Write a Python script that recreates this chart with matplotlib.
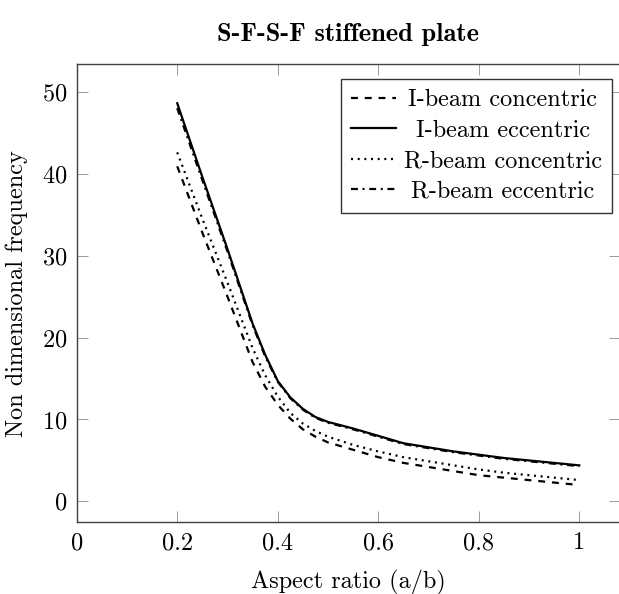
import numpy as np
import matplotlib
matplotlib.use("Agg")
import matplotlib.pyplot as plt

plt.rcParams['font.family'] = ['cmr10', 'DejaVu Serif']
plt.rcParams['mathtext.fontset'] = 'cm'
plt.rcParams['axes.formatter.use_mathtext'] = True
plt.rcParams['axes.unicode_minus'] = False

# aspect ratio a/b
ratio = [0.2, 0.25, 0.3, 0.35, 0.375, 0.4, 0.425, 0.45, 0.475, 0.5, 0.55, 0.6,
         0.65, 0.7, 0.75, 0.8, 0.85, 0.9, 0.95, 1.0]

i_conc = [40.9, 32.8, 25.0, 17.0, 14.0, 11.8, 10.1, 8.8, 7.9, 7.2, 6.3, 5.4,
          4.7, 4.2, 3.7, 3.2, 2.9, 2.6, 2.3, 2.0]
i_ecc = [48.6, 39.6, 30.8, 21.7, 17.9, 14.7, 12.7, 11.3, 10.3, 9.7, 8.9, 8.0,
         7.1, 6.6, 6.1, 5.7, 5.3, 5.0, 4.7, 4.4]
r_conc = [42.6, 34.5, 26.7, 18.7, 15.4, 12.8, 10.8, 9.5, 8.6, 7.9, 6.9, 6.1,
          5.4, 4.9, 4.4, 3.9, 3.5, 3.2, 2.9, 2.6]
r_ecc = [48.0, 39.2, 30.5, 21.5, 17.7, 14.6, 12.6, 11.2, 10.2, 9.6, 8.8, 7.9,
         7.0, 6.5, 6.0, 5.6, 5.2, 4.9, 4.6, 4.3]

labels = ['I-beam concentric', 'I-beam eccentric', 'R-beam concentric', 'R-beam eccentric']
xticks = [0, 0.2, 0.4, 0.6, 0.8, 1]
xticklabels = ['0', '0.2', '0.4', '0.6', '0.8', '1']
yticks = [0, 10, 20, 30, 40, 50]

fs = 17.5
W, H = 619, 594
fig = plt.figure(figsize=(W / 100, H / 100), dpi=100)
ax = fig.add_axes([76.7 / W, (H - 522.3) / H, 542.8 / W, 458 / H])

lw = 1.6
ax.plot(ratio, i_conc, color='k', lw=lw, dashes=(3.1, 3.1), dash_capstyle='butt', label=labels[0])
ax.plot(ratio, i_ecc, color='k', lw=lw, label=labels[1])
ax.plot(ratio, r_conc, color='k', lw=lw, dashes=(0.9, 2.1), dash_capstyle='butt', label=labels[2])
ax.plot(ratio, r_ecc, color='k', lw=lw, dashes=(3.1, 2.1, 0.9, 2.1), dash_capstyle='butt', label=labels[3])

ax.set_xlim(0, 1.08)
ax.set_ylim(-2.55, 53.35)
ax.set_xticks(xticks)
ax.set_xticklabels(xticklabels)
ax.set_yticks(yticks)
ax.tick_params(direction='in', top=True, right=True, length=7.7, width=0.6,
               color='0.55', labelsize=fs, pad=7)
for s in ax.spines.values():
    s.set_linewidth(1.0)
    s.set_color('0.25')

ax.set_xlabel('Aspect ratio (a/b)', fontsize=fs, labelpad=11)
ax.set_ylabel('Non dimensional frequency', fontsize=fs, labelpad=10)
ax.set_title('S-F-S-F stiffened plate', fontsize=19, fontfamily='cmb10', pad=17)

leg = ax.legend(loc='upper right', bbox_to_anchor=(0.986, 0.968), borderaxespad=0,
                fontsize=fs, handlelength=1.85, handletextpad=0.3, labelspacing=0.34,
                borderpad=0.42, fancybox=False, framealpha=1)
leg.get_frame().set_edgecolor('0.2')
leg.get_frame().set_linewidth(1.0)

# centre the legend texts in their column
r = fig.canvas.get_renderer()
widths = [t.get_window_extent(r).width for t in leg.get_texts()]
wmax = max(widths)
for t, w in zip(leg.get_texts(), widths):
    t.set_x((wmax - w) / 2)

fig.savefig('out.png', dpi=100)
